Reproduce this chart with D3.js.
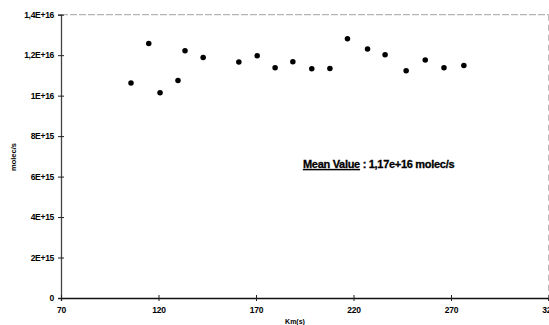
<!DOCTYPE html>
<html><head><meta charset="utf-8">
<script src="https://cdn.jsdelivr.net/npm/d3@7"></script>
<style>
html,body{margin:0;padding:0;background:#fff;}
text{font-family:"Liberation Sans",Arial,sans-serif;font-weight:bold;fill:#000;}
</style></head>
<body>
<script>
const xValues = [105.9,115.0,120.8,130.0,133.6,142.9,161.2,170.6,179.8,188.9,198.6,207.9,216.9,227.2,236.2,247.0,256.8,266.4,276.6];
const yValues = [1.062e16,1.258e16,1.014e16,1.075e16,1.222e16,1.189e16,1.166e16,1.197e16,1.138e16,1.167e16,1.133e16,1.134e16,1.281e16,1.230e16,1.202e16,1.123e16,1.176e16,1.138e16,1.149e16];
const xTicks = [70,120,170,220,270,320];
const xTickLabels = ["70","120","170","220","270","320"];
const yTicks = [0,2e15,4e15,6e15,8e15,1e16,1.2e16,1.4e16];
const yTickLabels = ["0","2E+15","4E+15","6E+15","8E+15","1E+16","1,2E+16","1,4E+16"];
const annotationLabel = "Mean Value";
const annotationText = " : 1,17e+16 molec/s";

const W = 549, H = 325;
const svg = d3.select("body").append("svg").attr("width", W).attr("height", H);
const x = d3.scaleLinear().domain([70,320]).range([61,548.5]);
const y = d3.scaleLinear().domain([0,1.4e16]).range([298,14.7]);

// frame (top and right, faint)
svg.append("line").attr("x1",x(70)).attr("x2",x(320)).attr("y1",y(1.4e16)).attr("y2",y(1.4e16))
  .attr("stroke","#888").attr("stroke-width",0.8).attr("stroke-dasharray","7,2");
svg.append("line").attr("x1",x(320)).attr("x2",x(320)).attr("y1",y(1.4e16)).attr("y2",y(0))
  .attr("stroke","#aaa").attr("stroke-width",0.8).attr("stroke-dasharray","6,4");

// y axis
const yAxis = svg.append("g").attr("transform",`translate(${x(70)},0)`)
  .call(d3.axisLeft(y).tickValues(yTicks).tickFormat((d,i)=>yTickLabels[i]).tickSize(3).tickPadding(4));
yAxis.select(".domain").attr("stroke","#444").attr("stroke-width",1.3);
yAxis.selectAll(".tick line").attr("x1",3).attr("x2",-3).attr("stroke","#222");
yAxis.selectAll(".tick text").style("font-size","8.5px").style("letter-spacing","-0.3px").attr("font-family",null);

// x axis
const xAxis = svg.append("g").attr("transform",`translate(0,${y(0)})`)
  .call(d3.axisBottom(x).tickValues(xTicks).tickFormat((d,i)=>xTickLabels[i]).tickSize(3).tickPadding(6));
xAxis.select(".domain").attr("stroke","#111").attr("stroke-width",1.3);
xAxis.selectAll(".tick line").attr("y1",-3).attr("y2",3).attr("stroke","#222");
xAxis.selectAll(".tick text").style("font-size","8.5px").style("letter-spacing","-0.3px").attr("font-family",null);

// axis titles
svg.append("text").attr("transform",`translate(16,157) rotate(-90)`).attr("text-anchor","middle")
  .style("font-size","7.5px").text("molec/s");
svg.append("text").attr("x",295).attr("y",324).attr("text-anchor","middle")
  .style("font-size","7px").text("Km(s)");

// points
svg.append("g").selectAll("path").data(xValues).join("path")
  .attr("transform",(d,i)=>`translate(${x(d)},${y(yValues[i])})`)
  .attr("d", d3.symbol().type(d3.symbolCircle).size(24))
  .attr("fill","#000");

// annotation
const ann = svg.append("text").attr("x",303).attr("y",168).style("font-size","11px")
  .style("letter-spacing","-0.3px").attr("stroke","#000").attr("stroke-width",0.3);
ann.append("tspan").attr("text-decoration","underline").text(annotationLabel);
ann.append("tspan").text(annotationText);
</script>
</body></html>
